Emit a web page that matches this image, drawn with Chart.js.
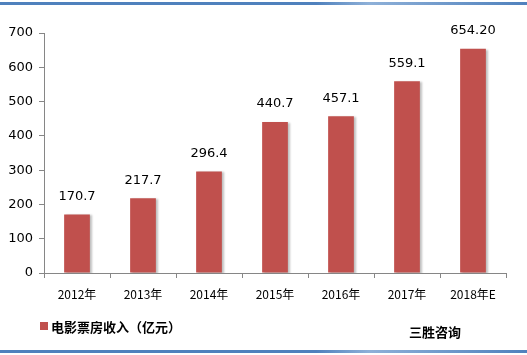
<!DOCTYPE html>
<html>
<head>
<meta charset="utf-8">
<script src="https://cdn.jsdelivr.net/npm/chart.js@4"></script>
<style>
  html, body { margin: 0; padding: 0; background: #fff; }
  #wrap { width: 527px; height: 355px; position: relative; }
</style>
</head>
<body>
<div id="wrap"><canvas id="myChart" width="527" height="355"></canvas></div>
<script>
const years = ['2012年','2013年','2014年','2015年','2016年','2017年','2018年E'];
const revenue = [170.7, 217.7, 296.4, 440.7, 457.1, 559.1, 654.2];
const valueLabels = ['170.7','217.7','296.4','440.7','457.1','559.1','654.20'];
const seriesName = '电影票房收入（亿元）';
const sourceText = '三胜咨询';

const numFont = '"DejaVu Sans", Verdana, sans-serif';
const cjkFont = '"Noto Sans CJK SC", "DejaVu Sans", sans-serif';

const extras = {
  id: 'extras',
  beforeDatasetsDraw(chart) {
    // light shadow like the original office chart
    const c = chart.ctx;
    c.save();
    c.shadowColor = 'rgba(0,0,0,0.25)';
    c.shadowOffsetX = 2;
    c.shadowOffsetY = 1;
    c.shadowBlur = 2;
  },
  afterDatasetsDraw(chart) {
    const c = chart.ctx;
    c.restore();
    const meta = chart.getDatasetMeta(0);
    c.save();
    c.fillStyle = '#000';
    c.font = '13px ' + numFont;
    c.textAlign = 'center';
    c.textBaseline = 'middle';
    meta.data.forEach((bar, i) => {
      c.fillText(valueLabels[i], bar.x, bar.y - 18);
    });
    c.restore();
  },
  afterDraw(chart) {
    const c = chart.ctx;
    c.save();
    // frame lines top / bottom
    let g = c.createLinearGradient(0, 0, 527, 0);
    g.addColorStop(0, '#4f81bd');
    g.addColorStop(0.6, '#4f81bd');
    g.addColorStop(0.7, '#8eb0d8');
    g.addColorStop(1, '#4f81bd');
    c.fillStyle = g;
    c.fillRect(0, 2, 527, 3);
    c.fillRect(0, 350, 527, 3);
    // legend
    c.fillStyle = '#c0504d';
    c.fillRect(40, 322, 8, 8);
    c.fillStyle = '#000';
    c.font = 'bold 13px ' + cjkFont;
    c.textBaseline = 'middle';
    c.textAlign = 'left';
    c.fillText(chart.data.datasets[0].label, 51, 327);
    c.fillText(sourceText, 409, 332);
    c.restore();
  }
};

const ctx = document.getElementById('myChart').getContext('2d');
let myChart = new Chart(ctx, {
  type: 'bar',
  data: {
    labels: years,
    datasets: [{
      label: seriesName,
      data: revenue,
      backgroundColor: '#c0504d',
      barPercentage: 0.39,
      categoryPercentage: 1
    }]
  },
  options: {
    responsive: false,
    animation: false,
    layout: { padding: { top: 33, right: 21, left: 0, bottom: 0 } },
    plugins: { legend: { display: false }, tooltip: { enabled: false } },
    scales: {
      x: {
        grid: { display: true, drawOnChartArea: false, offset: true, tickLength: 5, color: '#868686' },
        border: { color: '#868686' },
        ticks: { color: '#000', font: { family: cjkFont, size: 12 }, padding: 9 },
        afterFit: (s) => { s.height = 82; }
      },
      y: {
        min: 0, max: 700,
        grid: { display: true, drawOnChartArea: false, tickLength: 5, color: '#868686' },
        border: { color: '#868686' },
        ticks: { stepSize: 100, color: '#000', font: { family: numFont, size: 13 }, padding: 6 },
        afterFit: (s) => { s.width = 44; }
      }
    }
  },
  plugins: [extras]
});
</script>
</body>
</html>
